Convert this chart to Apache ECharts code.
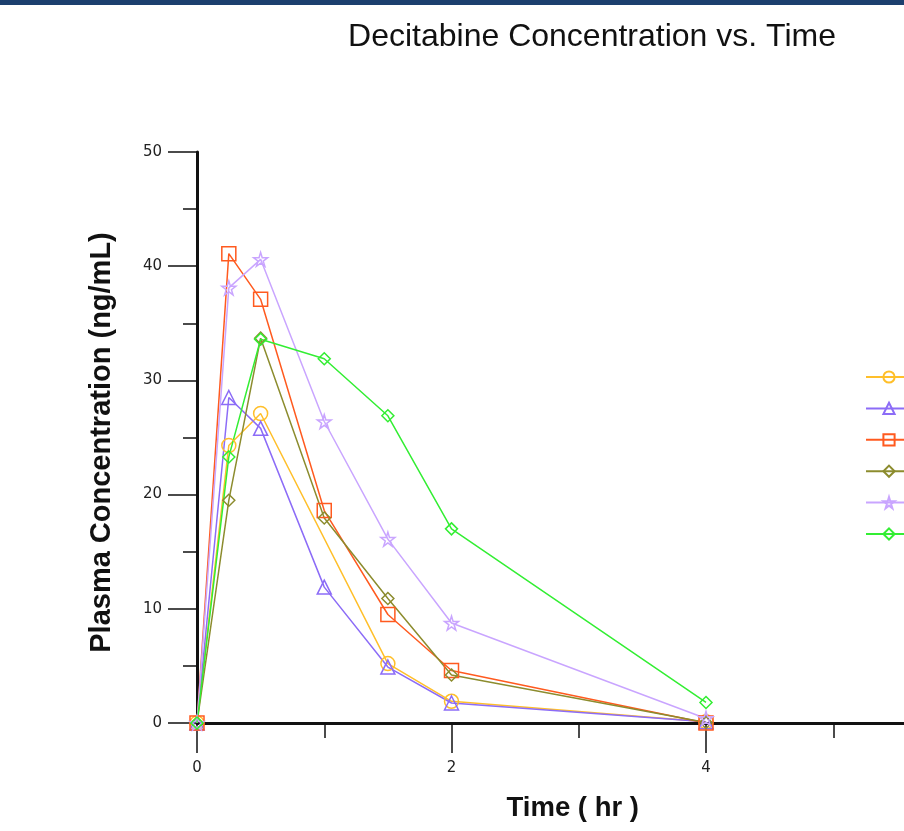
<!DOCTYPE html>
<html>
<head>
<meta charset="utf-8">
<script src="https://cdn.jsdelivr.net/npm/echarts@6/dist/echarts.min.js"></script>
<style>
    html, body { margin: 0; padding: 0; width: 904px; height: 831px; overflow: hidden; background: #fff; }
    #topbar { position: absolute; left: 0; top: 0; width: 904px; height: 5px; background: #1c3f6e; z-index: 2; }
    #chart { position: absolute; left: 0; top: 0; width: 1184px; height: 831px; }
</style>
</head>
<body>
<div id="topbar"></div>
<div id="chart"></div>
<script>
    // sampling times (hr)
    var times = [0, 0.25, 0.5, 1, 1.5, 2, 4]

    // plasma concentration (ng/mL) per subject, null = no sample
    var subject1 = [0, 24.3, 27.1, null, 5.2, 1.9, 0.1]
    var subject2 = [0, 28.5, 25.8, 11.9, 4.9, 1.75, 0.1]
    var subject3 = [0, 41.1, 37.1, 18.6, 9.5, 4.6, 0]
    var subject4 = [0, 19.5, 33.7, 17.95, 10.9, 4.2, 0.05]
    var subject5 = [0, 38.1, 40.6, 26.4, 16.1, 8.75, 0.4]
    var subject6 = [0, 23.3, 33.6, 31.9, 26.9, 17.0, 1.8]

    var seriesNames = ['Subject 1', 'Subject 2', 'Subject 3', 'Subject 4', 'Subject 5', 'Subject 6']

    var starPath = 'path://M50,0 L61,35 L98,35 L68,57 L79,91 L50,70 L21,91 L32,57 L2,35 L39,35 Z'

    function pairs(values) {
        return times.map(function (t, i) { return [t, values[i]] })
    }

    function makeSeries(name, values, color, symbol, size) {
        return {
            name: name,
            type: 'line',
            data: pairs(values),
            connectNulls: true,
            symbol: symbol,
            symbolSize: size,
            showAllSymbol: true,
            lineStyle: { color: color, width: 1.5 },
            itemStyle: { color: 'rgba(255,255,255,0)', borderColor: color, borderWidth: 1.5 },
            emphasis: { disabled: true }
        }
    }

    var chart = echarts.init(document.getElementById('chart'))

    chart.setOption({
        animation: false,
        textStyle: { fontFamily: 'Liberation Sans, Arial, sans-serif' },
        title: {
            text: 'Decitabine Concentration vs. Time',
            left: 'center',
            top: 16,
            textStyle: { fontSize: 32, fontWeight: 'normal', color: '#111', fontFamily: 'Liberation Sans' }
        },
        legend: {
            orient: 'vertical',
            left: 860,
            top: 365,
            itemWidth: 46,
            itemHeight: 14,
            itemGap: 17.4,
            textStyle: { fontSize: 14, color: '#222' },
            data: seriesNames
        },
        grid: {
            left: 197,
            right: 223.5,
            top: 152,
            bottom: 108
        },
        xAxis: {
            type: 'value',
            min: 0,
            max: 6,
            interval: 2,
            name: 'Time ( hr )',
            nameLocation: 'middle',
            nameGap: 71,
            nameTextStyle: { fontSize: 27.5, fontWeight: 'bold', color: '#111', padding: [0, 12, 0, 0] },
            axisLine: { onZero: false, lineStyle: { color: '#111', width: 3 } },
            axisTick: { length: 30, lineStyle: { color: '#111', width: 1.5 } },
            minorTick: { show: true, splitNumber: 2, length: 15, lineStyle: { color: '#111', width: 1.5 } },
            axisLabel: { margin: 38, fontSize: 15, color: '#222', fontFamily: 'DejaVu Sans' },
            splitLine: { show: false }
        },
        yAxis: {
            type: 'value',
            min: 0,
            max: 50,
            interval: 10,
            name: 'Plasma Concentration (ng/mL)',
            nameLocation: 'middle',
            nameRotate: 90,
            nameGap: 81,
            nameTextStyle: { fontSize: 29, fontWeight: 'bold', color: '#111', padding: [0, 10, 0, 0] },
            axisLine: { show: true, onZero: false, lineStyle: { color: '#111', width: 3 } },
            axisTick: { show: true, length: 29, lineStyle: { color: '#111', width: 1.5 } },
            minorTick: { show: true, splitNumber: 2, length: 14, lineStyle: { color: '#111', width: 1.5 } },
            axisLabel: { margin: 35, fontSize: 15, color: '#222', fontFamily: 'DejaVu Sans' },
            splitLine: { show: false }
        },
        series: [
            makeSeries(seriesNames[0], subject1, '#ffbf2a', 'circle', 14),
            makeSeries(seriesNames[1], subject2, '#8c6cf7', 'triangle', 14),
            makeSeries(seriesNames[2], subject3, '#ff5a1f', 'rect', 14),
            makeSeries(seriesNames[3], subject4, '#8c8c2e', 'diamond', 12),
            makeSeries(seriesNames[4], subject5, '#c9a5ff', starPath, 14),
            makeSeries(seriesNames[5], subject6, '#33ee33', 'diamond', 12)
        ]
    })
</script>
</body>
</html>
